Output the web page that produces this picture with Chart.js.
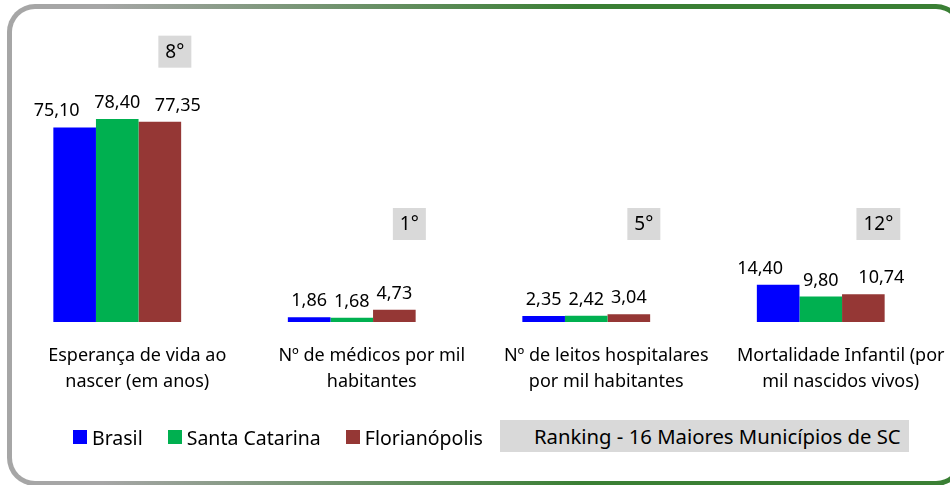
<!DOCTYPE html>
<html>
<head>
<meta charset="utf-8">
<script src="https://cdn.jsdelivr.net/npm/chart.js@4.4.1/dist/chart.umd.min.js"></script>
<style>
    html, body { margin: 0; padding: 0; background: #fff; }
    body { width: 950px; height: 485px; position: relative; overflow: hidden; font-family: "Noto Sans", sans-serif; color: #000; }
    .moldura {
        position: absolute; left: 7px; top: 4px; width: 957px; height: 482px;
        border-radius: 28px;
        background: linear-gradient(to right, #a6a6a6 0%, #a6a6a6 10%, #3a7f34 60%, #3a7f34 100%);
    }
    .moldura .miolo { position: absolute; left: 5px; top: 5px; right: 5px; bottom: 5px; border-radius: 23px; background: #fff; }
    #grafico { position: absolute; left: 0; top: 0; }
    .legenda { position: absolute; left: 73px; top: 423px; height: 28px; display: flex; align-items: center; font-size: 19.5px; }
    .legenda .item { display: flex; align-items: center; margin-right: 25px; }
    .legenda .item i { display: inline-block; width: 14px; height: 14px; margin-right: 5px; }
    .ranking {
        position: absolute; left: 500px; top: 420px; width: 375px; height: 32px;
        padding-left: 34px; background: #d9d9d9; font-size: 20.3px; line-height: 32px;
        white-space: nowrap;
    }
</style>
</head>
<body>
<div class="moldura"><div class="miolo"></div></div>
<canvas id="grafico" width="950" height="485"></canvas>
<div class="legenda" id="legenda"></div>
<div class="ranking">Ranking - 16 Maiores Municípios de SC</div>

<script>
// dados
const categorias = [
    ['Esperança de vida ao', 'nascer (em anos)'],
    ['Nº de médicos por mil', 'habitantes'],
    ['Nº de leitos hospitalares', 'por mil habitantes'],
    ['Mortalidade Infantil (por', 'mil nascidos vivos)']
];
const brasil = [75.10, 1.86, 2.35, 14.40];
const santaCatarina = [78.40, 1.68, 2.42, 9.80];
const florianopolis = [77.35, 4.73, 3.04, 10.74];
const ranking = ['8°', '1°', '5°', '12°'];

const series = [
    { nome: 'Brasil', valores: brasil, cor: '#0000ff' },
    { nome: 'Santa Catarina', valores: santaCatarina, cor: '#00b050' },
    { nome: 'Florianópolis', valores: florianopolis, cor: '#953735' }
];

Chart.defaults.font.family = '"Noto Sans", sans-serif';
Chart.defaults.color = '#000';

function formatar(v) {
    return v.toFixed(2).replace('.', ',');
}

// valores em cima das barras (afasta os das pontas quando não cabem)
const rotulosValores = {
    id: 'rotulosValores',
    afterDatasetsDraw(chart) {
        const ctx = chart.ctx;
        const n = chart.data.datasets.length;
        ctx.save();
        ctx.font = '18px "Noto Sans"';
        ctx.fillStyle = '#000';
        ctx.textAlign = 'center';
        ctx.textBaseline = 'alphabetic';
        chart.data.labels.forEach((_, j) => {
            const barras = chart.data.datasets.map((ds, i) => chart.getDatasetMeta(i).data[j]);
            const textos = chart.data.datasets.map(ds => formatar(ds.data[j]));
            const largura = barras[0].width;
            const apertado = textos.some(t => ctx.measureText(t).width > largura - 4);
            barras.forEach((bar, i) => {
                let dx = 0;
                if (apertado && i === 0) dx = -18;
                if (apertado && i === n - 1) dx = 18;
                ctx.fillText(textos[i], bar.x + dx, bar.y - 11);
            });
        });
        ctx.restore();
    }
};

// caixinhas cinza com a posição no ranking
const caixasRanking = {
    id: 'caixasRanking',
    afterDatasetsDraw(chart) {
        const ctx = chart.ctx;
        const barras = chart.getDatasetMeta(2).data;
        ctx.save();
        ctx.font = '19px "Noto Sans"';
        ctx.textAlign = 'center';
        ctx.textBaseline = 'middle';
        ranking.forEach((txt, j) => {
            const cx = barras[j].x + 15;
            const cy = Math.min(barras[j].y - 70, 224);
            const w = ctx.measureText(txt).width + 14;
            ctx.fillStyle = '#d9d9d9';
            ctx.fillRect(cx - w / 2, cy - 16, w, 32);
            ctx.fillStyle = '#000';
            ctx.fillText(txt, cx, cy + 1);
        });
        ctx.restore();
    }
};

const chart = new Chart(document.getElementById('grafico'), {
    type: 'bar',
    data: {
        labels: categorias,
        datasets: series.map(s => ({
            label: s.nome,
            data: s.valores,
            backgroundColor: s.cor,
            borderWidth: 0,
            barPercentage: 1,
            categoryPercentage: 0.545
        }))
    },
    options: {
        responsive: false,
        animation: false,
        layout: { padding: { top: 63, left: 0, right: 12, bottom: 69 } },
        plugins: {
            legend: { display: false },
            tooltip: { enabled: false }
        },
        scales: {
            x: {
                grid: { display: false, drawTicks: false },
                border: { display: false },
                ticks: { padding: 21, labelOffset: 20, font: { size: 18, lineHeight: '26px' }, color: '#000' }
            },
            y: { display: false, min: 0, max: 100 }
        }
    },
    plugins: [rotulosValores, caixasRanking]
});

// legenda em html
const legenda = document.getElementById('legenda');
series.forEach(s => {
    const item = document.createElement('span');
    item.className = 'item';
    item.innerHTML = '<i style="background:' + s.cor + '"></i>' + s.nome;
    legenda.appendChild(item);
});
</script>
</body>
</html>
